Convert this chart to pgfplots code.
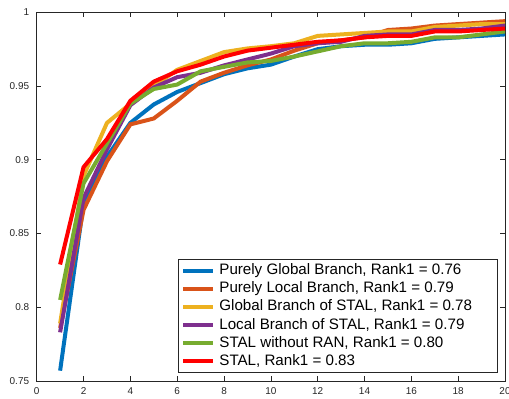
\documentclass[border=0pt]{standalone}
\usepackage{fontspec}
\setmainfont{Liberation Sans}
\usepackage{pgfplots}
\pgfplotsset{compat=1.18}
\usepackage{pgfplotstable}
\definecolor{mblue}{rgb}{0,0.447,0.741}
\definecolor{morange}{rgb}{0.850,0.325,0.098}
\definecolor{myellow}{rgb}{0.929,0.694,0.125}
\definecolor{mpurple}{rgb}{0.494,0.184,0.556}
\definecolor{mgreen}{rgb}{0.466,0.674,0.188}
\definecolor{mred}{rgb}{1,0,0}
\definecolor{axgray}{gray}{0.15}
\pgfplotstableread{
x  pg     pl     gs     ls     nr     st
1  0.757  0.786  0.789  0.783  0.805  0.829
2  0.870  0.866  0.889  0.874  0.884  0.895
3  0.902  0.899  0.925  0.907  0.911  0.914
4  0.925  0.924  0.938  0.937  0.938  0.940
5  0.9375 0.928  0.950  0.949  0.948  0.953
6  0.946  0.940  0.961  0.956  0.951  0.960
7  0.952  0.953  0.967  0.959  0.960  0.9645
8  0.958  0.959  0.973  0.964  0.963  0.970
9  0.962  0.964  0.9755 0.968  0.966  0.974
10 0.9645 0.968  0.977  0.972  0.967  0.976
11 0.970  0.974  0.979  0.977  0.970  0.978
12 0.975  0.979  0.984  0.979  0.9735 0.980
13 0.977  0.981  0.985  0.980  0.977  0.981
14 0.978  0.983  0.986  0.984  0.979  0.983
15 0.978  0.988  0.987  0.985  0.979  0.984
16 0.979  0.989  0.987  0.985  0.980  0.984
17 0.982  0.991  0.990  0.988  0.983  0.987
18 0.983  0.992  0.991  0.988  0.983  0.987
19 0.984  0.993  0.992  0.989  0.985  0.988
20 0.985  0.994  0.992  0.991  0.987  0.989
}\data
\newcommand\legtxt[1]{\makebox[275bp][l]{#1}}
\begin{document}
\begin{tikzpicture}
\begin{axis}[
  scale only axis,
  width=468.3bp, height=368.7bp,
  xmin=0, xmax=20, ymin=0.75, ymax=1,
  xtick={0,2,...,20},
  ytick={0.75,0.8,0.85,0.9,0.95,1},
  yticklabels={0.75,0.8,0.85,0.9,0.95,1},
  xticklabels={0,2,4,6,8,10,12,14,16,18,20},
  tick align=inside,
  major tick length=4.7bp,
  axis line style={axgray, line width=0.6bp},
  every tick/.style={axgray, line width=0.6bp},
  tick label style={font=\fontsize{10}{12}\selectfont, text=axgray},
  xticklabel style={anchor=north, inner sep=0pt, yshift=-6.5bp},
  yticklabel style={anchor=east, inner sep=0pt, xshift=-7.4bp},
  legend cell align=left,
  legend image code/.code={\draw[#1] (0bp,0bp) -- (30bp,0bp);},
  legend style={at={(axis description cs:1,0)}, anchor=south east,
    xshift=-7bp, yshift=8bp, draw=axgray, line width=0.6bp,
    font=\fontsize{15.2}{17}\selectfont,
    inner xsep=3.3bp, inner ysep=4.5bp, row sep=4.1bp, column sep=4bp,
    nodes={inner sep=0pt, text height=11bp, text depth=3bp}},
  every axis plot/.append style={line width=4bp},
]
\addplot[mblue] table[x=x,y=pg] {\data};
\addlegendentry{\legtxt{Purely Global Branch, Rank1 = 0.76}}
\addplot[morange] table[x=x,y=pl] {\data};
\addlegendentry{\legtxt{Purely Local Branch, Rank1 = 0.79}}
\addplot[myellow] table[x=x,y=gs] {\data};
\addlegendentry{\legtxt{Global Branch of STAL, Rank1 = 0.78}}
\addplot[mpurple] table[x=x,y=ls] {\data};
\addlegendentry{\legtxt{Local Branch of STAL, Rank1 = 0.79}}
\addplot[mgreen] table[x=x,y=nr] {\data};
\addlegendentry{\legtxt{STAL without RAN, Rank1 = 0.80}}
\addplot[mred] table[x=x,y=st] {\data};
\addlegendentry{\legtxt{STAL, Rank1 = 0.83}}
\end{axis}
\pgfresetboundingbox
\path[use as bounding box] ([shift={(-36.7bp,-18bp)}]current axis.south west) rectangle ([shift={(4bp,12.3bp)}]current axis.north east);
\end{tikzpicture}
\end{document}
